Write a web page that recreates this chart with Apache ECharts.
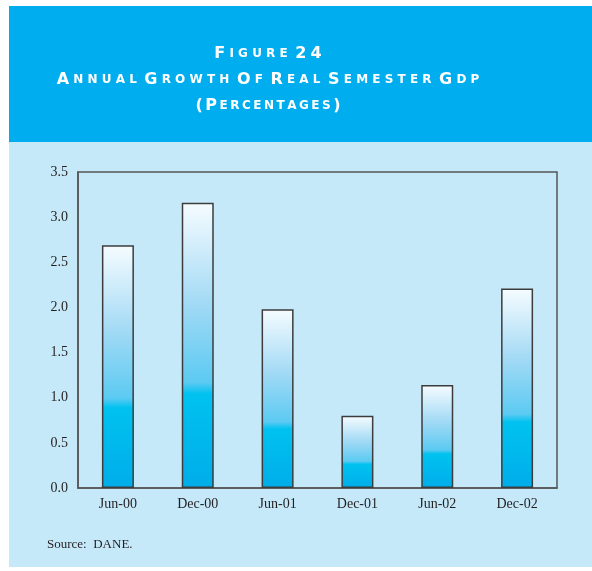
<!DOCTYPE html>
<html>
<head>
<meta charset="utf-8">
<script src="https://cdn.jsdelivr.net/npm/echarts@6/dist/echarts.min.js"></script>
<style>
  html, body { margin: 0; padding: 0; background: #fff; }
  #chart { width: 592px; height: 571px; }
</style>
</head>
<body>
<div id="chart"></div>
<script>
const periods = ["Jun-00", "Dec-00", "Jun-01", "Dec-01", "Jun-02", "Dec-02"];
const growth = [2.69, 3.16, 1.98, 0.80, 1.14, 2.21];
const titleLines = ["Figure 24", "Annual Growth Of Real Semester Gdp", "(Percentages)"];
const sourceNote = "Source:  DANE.";

// small caps with letter spacing, one rich token per character
function smallCaps(line, tag) {
	let out = "";
	for (const word of line.split(" ")) {
		let first = true;
		for (const ch of word) {
			let big = /[A-Z0-9()]/.test(ch) || (first && /[a-z]/.test(ch));
			out += "{" + (big ? "b" : "s") + tag + "|" + ch.toUpperCase() + "}";
			if (/[A-Za-z]/.test(ch)) first = false;
		}
		out += "{sp| }";
	}
	return out.replace(/\{sp\| \}$/, "");
}

function capStyle(size, pad) {
	return { fontFamily: "DejaVu Sans", fontWeight: "bold", fontSize: size, color: "#fff", padding: [0, pad, 0, pad], lineHeight: 26 };
}

const chart = echarts.init(document.getElementById("chart"));

const barFill = new echarts.graphic.LinearGradient(0, 0, 0, 1, [
	{ offset: 0, color: "#f6fcff" },
	{ offset: 0.35, color: "#a3daf5" },
	{ offset: 0.63, color: "#5ccaf2" },
	{ offset: 0.67, color: "#00c2f0" },
	{ offset: 1, color: "#00ade9" }
]);

const option = {
	backgroundColor: "#ffffff",
	graphic: [
		{ type: "rect", z: -10, shape: { x: 9, y: 6, width: 583, height: 136 }, style: { fill: "#00aeef" } },
		{ type: "rect", z: -10, shape: { x: 9, y: 142, width: 583, height: 425 }, style: { fill: "#c6e9fa" } },
		{ type: "text", left: 47, top: 538, style: { text: sourceNote, font: "13px 'Liberation Serif', serif", fill: "#231f20" } }
	],
	title: {
		text: smallCaps(titleLines[0], "") + "\n" + smallCaps(titleLines[1], "") + "\n" + smallCaps(titleLines[2], "n"),
		left: 263,
		textAlign: "center",
		top: 36,
		textStyle: {
			color: "#ffffff",
			rich: {
				b: capStyle(16, 2.1),
				s: capStyle(12, 2.1),
				bn: capStyle(16, 1.25),
				sn: capStyle(12, 1.25),
				sp: { fontSize: 12, lineHeight: 26 }
			}
		}
	},
	grid: {
		left: 78, right: 35, top: 172, bottom: 83,
		show: true, borderColor: "#555", borderWidth: 1.5, backgroundColor: "transparent"
	},
	xAxis: {
		type: "category",
		data: periods,
		axisLine: { lineStyle: { color: "#555", width: 1.5 } },
		axisTick: { show: false },
		axisLabel: { fontFamily: "Liberation Serif", fontSize: 14, color: "#231f20", margin: 9 }
	},
	yAxis: {
		type: "value",
		min: 0, max: 3.5, interval: 0.5,
		axisLine: { show: true, lineStyle: { color: "#555", width: 1.5 } },
		axisTick: { show: false },
		splitLine: { show: false },
		axisLabel: {
			fontFamily: "Liberation Serif", fontSize: 14, color: "#231f20", margin: 10,
			formatter: v => v.toFixed(1)
		}
	},
	series: [{
		type: "bar",
		data: growth,
		barWidth: 32,
		itemStyle: { color: barFill, borderColor: "#3c3c3c", borderWidth: 1.5 }
	}]
};

chart.setOption(option);
</script>
</body>
</html>
